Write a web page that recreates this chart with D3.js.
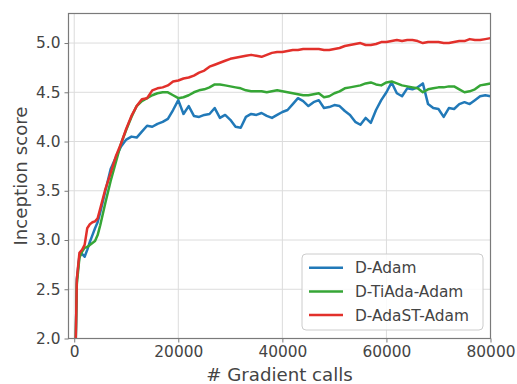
<!DOCTYPE html>
<html><head><meta charset="utf-8">
<script src="https://cdn.jsdelivr.net/npm/d3@7/dist/d3.min.js"></script>
<style>body{margin:0;background:#fff}</style>
</head><body>
<script>
const steps = [300,500,1000,1500,2000,2500,3000,3500,4000,4500,5000,
6000,7000,8000,9000,10000,11000,12000,13000,14000,15000,16000,17000,18000,19000,20000,
21000,22000,23000,24000,25000,26000,27000,28000,29000,30000,31000,32000,33000,34000,35000,
36000,37000,38000,39000,40000,41000,42000,43000,44000,45000,46000,47000,48000,49000,50000,
51000,52000,53000,54000,55000,56000,57000,58000,59000,60000,61000,62000,63000,64000,65000,
66000,67000,68000,69000,70000,71000,72000,73000,74000,75000,76000,77000,78000,79000,80000];

const dAdam = [2.0,2.6,2.84,2.86,2.83,2.9,2.98,3.05,3.12,3.18,3.28,
3.5,3.72,3.84,3.95,4.02,4.05,4.04,4.10,4.16,4.15,4.18,4.20,4.23,4.32,4.42,
4.28,4.36,4.26,4.25,4.27,4.28,4.34,4.24,4.27,4.22,4.15,4.14,4.25,4.28,4.27,
4.29,4.26,4.24,4.27,4.30,4.32,4.38,4.44,4.41,4.36,4.40,4.42,4.34,4.35,4.37,
4.36,4.31,4.27,4.20,4.17,4.24,4.19,4.32,4.42,4.50,4.60,4.49,4.46,4.54,4.53,
4.55,4.59,4.38,4.34,4.33,4.25,4.34,4.33,4.38,4.40,4.38,4.42,4.46,4.47,4.46];

const dTiAdaAdam = [2.0,2.55,2.82,2.88,2.92,2.93,2.95,2.97,2.99,3.05,3.15,
3.38,3.6,3.79,3.98,4.12,4.25,4.36,4.41,4.44,4.47,4.49,4.50,4.50,4.47,4.44,
4.45,4.47,4.50,4.52,4.53,4.55,4.58,4.58,4.57,4.56,4.55,4.54,4.52,4.51,4.51,
4.51,4.50,4.51,4.52,4.51,4.50,4.49,4.48,4.47,4.47,4.48,4.49,4.45,4.46,4.49,
4.51,4.54,4.55,4.56,4.57,4.59,4.60,4.58,4.57,4.60,4.61,4.59,4.57,4.56,4.55,
4.54,4.50,4.53,4.54,4.55,4.55,4.56,4.56,4.53,4.50,4.51,4.53,4.57,4.58,4.59];

const dAdaSTAdam = [2.0,2.6,2.87,2.9,2.95,3.12,3.16,3.18,3.19,3.22,3.32,
3.52,3.68,3.85,3.98,4.13,4.26,4.36,4.43,4.44,4.52,4.54,4.55,4.57,4.61,4.62,
4.64,4.65,4.67,4.70,4.72,4.76,4.78,4.80,4.82,4.84,4.85,4.86,4.87,4.88,4.87,
4.86,4.88,4.90,4.91,4.91,4.92,4.93,4.93,4.94,4.94,4.94,4.94,4.93,4.93,4.94,
4.95,4.97,4.98,4.99,5.00,4.98,4.98,4.99,5.01,5.01,5.02,5.03,5.02,5.03,5.03,
5.02,5.00,5.01,5.01,5.01,5.00,5.00,5.01,5.02,5.02,5.04,5.03,5.03,5.04,5.05];

const seriesNames = ["D-Adam","D-TiAda-Adam","D-AdaST-Adam"];
const seriesColors = ["#2179b8","#36a636","#e2302b"];
const xTicks = [0,20000,40000,60000,80000];
const yTicks = [2.0,2.5,3.0,3.5,4.0,4.5,5.0];
const xLabel = "# Gradient calls";
const yLabel = "Inception score";

const W = 517, H = 384;
const m = {left:68.5, top:13.5, right:490.5, bottom:338.5};
const svg = d3.select("body").append("svg").attr("width",W).attr("height",H)
  .style("font-family","DejaVu Sans");

const x = d3.scaleLinear().domain([-1100,80000]).range([m.left,m.right]);
const y = d3.scaleLinear().domain([2.0,5.3]).range([m.bottom,m.top]);

const textColor = "#444";
const spineColor = "#7a7a7a";

// grid
svg.append("g").selectAll("line").data(xTicks).join("line")
  .attr("x1",d=>x(d)).attr("x2",d=>x(d)).attr("y1",m.top).attr("y2",m.bottom)
  .attr("stroke","#dcdcdc").attr("stroke-width",1);
svg.append("g").selectAll("line").data(yTicks).join("line")
  .attr("y1",d=>y(d)).attr("y2",d=>y(d)).attr("x1",m.left).attr("x2",m.right)
  .attr("stroke","#dcdcdc").attr("stroke-width",1);

svg.append("clipPath").attr("id","clip").append("rect")
  .attr("x",m.left).attr("y",m.top).attr("width",m.right-m.left).attr("height",m.bottom-m.top);

const allSeries = [dAdam,dTiAdaAdam,dAdaSTAdam];
const line = d3.line().x((d,i)=>x(steps[i])).y(d=>y(d));
const gl = svg.append("g").attr("clip-path","url(#clip)");
[0,1,2].forEach(k=>{
  gl.append("path").datum(allSeries[k]).attr("d",line)
    .attr("fill","none").attr("stroke",seriesColors[k]).attr("stroke-width",2.5)
    .attr("stroke-linejoin","round").attr("stroke-linecap","round");
});

// axes
const fs = 15.4;
const xAxis = svg.append("g").attr("transform",`translate(0,${m.bottom})`)
  .call(d3.axisBottom(x).tickValues(xTicks).tickFormat(d3.format("d")).tickSize(4).tickPadding(4));
const yAxis = svg.append("g").attr("transform",`translate(${m.left},0)`)
  .call(d3.axisLeft(y).tickValues(yTicks).tickFormat(d3.format(".1f")).tickSize(4).tickPadding(4));
[xAxis,yAxis].forEach(a=>{
  a.select(".domain").remove();
  a.selectAll(".tick line").attr("stroke",spineColor);
  a.selectAll(".tick text").attr("fill",textColor).style("font-size",fs+"px").style("font-family","DejaVu Sans");
});

// frame
svg.append("rect").attr("x",m.left).attr("y",m.top).attr("width",m.right-m.left).attr("height",m.bottom-m.top)
  .attr("fill","none").attr("stroke",spineColor).attr("stroke-width",1.2);

svg.append("text").attr("x",(m.left+m.right)/2).attr("y",381)
  .attr("text-anchor","middle").attr("fill",textColor).style("font-size","18.2px").text(xLabel);
svg.append("text").attr("transform",`translate(27,${(m.top+m.bottom)/2}) rotate(-90)`)
  .attr("text-anchor","middle").attr("fill",textColor).style("font-size","18.2px").text(yLabel);

// legend
const lg = svg.append("g");
lg.append("rect").attr("x",302).attr("y",254).attr("width",181).attr("height",76).attr("rx",4)
  .attr("fill","#fff").attr("fill-opacity",0.85).attr("stroke","#cccccc").attr("stroke-width",1);
seriesNames.forEach((n,i)=>{
  const yy = 267.7 + i*23.7;
  lg.append("line").attr("x1",309).attr("x2",343).attr("y1",yy).attr("y2",yy)
    .attr("stroke",seriesColors[i]).attr("stroke-width",2.5);
  lg.append("text").attr("x",355).attr("y",yy).attr("dy","0.36em").attr("fill",textColor)
    .style("font-size",fs+"px").text(n);
});
</script>
</body></html>
